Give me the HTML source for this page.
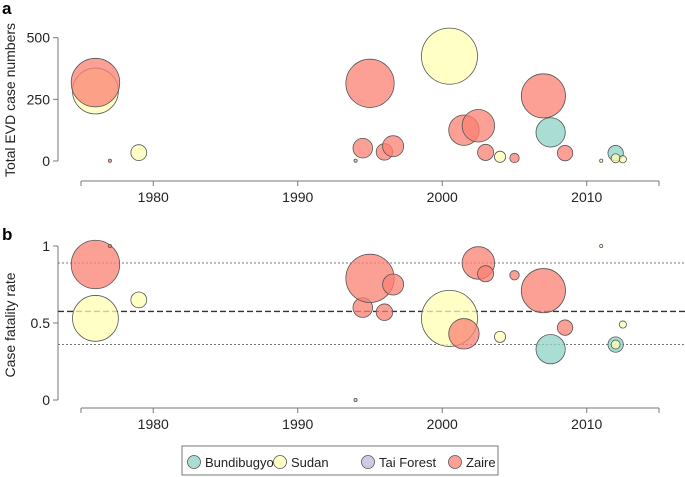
<!DOCTYPE html>
<html><head><meta charset="utf-8"><style>
body{margin:0;background:#fff;}
svg{display:block;font-family:"Liberation Sans",Arial,sans-serif;}
</style></head><body>
<svg id="chart" width="685" height="477" viewBox="0 0 685 477">
<g id="axes"></g><g id="marks"></g><g id="leg"></g>
</svg>
<script>
const years=[1976,1976,1977,1979,1994,1994.5,1995,1996,1996.6,2000.5,2001.5,2002.5,2003,2004,2005,2007,2007.5,2008.5,2011,2012,2012,2012.5];
const totals=[284,318,1,34,1,52,315,37,60,425,125,143,35,17,12,264,116,32,1,32,11,7];
const cfrs=[0.53,0.88,1.0,0.65,0,0.60,0.79,0.57,0.75,0.53,0.43,0.89,0.82,0.41,0.81,0.71,0.33,0.47,1.0,0.36,0.36,0.49];
const species=["Sudan","Zaire","Zaire","Sudan","Tai Forest","Zaire","Zaire","Zaire","Zaire","Sudan","Zaire","Zaire","Zaire","Sudan","Zaire","Zaire","Bundibugyo","Zaire","Sudan","Bundibugyo","Sudan","Sudan"];
const xTicks=[1980,1990,2000,2010];
const topTicks=[0,250,500];
const botTicks=[0,0.5,1];
const refLines=[0.89,0.575,0.36];
const legendNames=["Bundibugyo","Sudan","Tai Forest","Zaire"];
const colors={"Bundibugyo":"rgba(141,211,199,0.75)","Sudan":"rgba(255,255,179,0.75)","Tai Forest":"rgba(190,186,218,0.75)","Zaire":"rgba(251,128,114,0.75)"};
const NS="http://www.w3.org/2000/svg";
const X=v=>81+(v-1975)*14.45;
const YT=v=>161-v*0.2466;
const YB=v=>400-v*154;
const R=t=>Math.max(1.6,Math.sqrt(t)*1.36);
function mk(tag,at,parent,txt){const e=document.createElementNS(NS,tag);for(const k in at)e.setAttribute(k,at[k]);if(txt!==undefined)e.textContent=txt;parent.appendChild(e);return e;}
const ax=document.getElementById('axes'),mg=document.getElementById('marks'),lgRoot=document.getElementById('leg');
let e=mk('text',{x:2,y:14,'font-size':17,'font-weight':'bold'},ax,'a');


e=mk('text',{x:2,y:240,'font-size':17,'font-weight':'bold'},ax,'b');


e=mk('text',{x:0,y:0,'font-size':14,'text-anchor':'middle','fill':'#222',transform:'translate(15,100) rotate(-90)'},ax,'Total EVD case numbers');


e=mk('text',{x:0,y:0,'font-size':14,'text-anchor':'middle','fill':'#222',transform:'translate(15,325) rotate(-90)'},ax,'Case fatality rate');


mk('line',{x1:58,x2:58,y1:YT(500),y2:YT(0),stroke:'#777'},ax);
topTicks.forEach(t=>{mk('line',{x1:53,x2:58,y1:YT(t),y2:YT(t),stroke:'#777'},ax);
 e=mk('text',{x:50,y:YT(t)+5,'font-size':14,'text-anchor':'end','fill':'#222'},ax,t);
 
 });
mk('line',{x1:58,x2:58,y1:YB(1),y2:YB(0),stroke:'#777'},ax);
botTicks.forEach(t=>{mk('line',{x1:53,x2:58,y1:YB(t),y2:YB(t),stroke:'#777'},ax);
 e=mk('text',{x:50,y:YB(t)+5,'font-size':14,'text-anchor':'end','fill':'#222'},ax,t);
 
 });
[[181,'top'],[408,'bottom']].forEach(([y,n])=>{
 mk('line',{x1:X(1975),x2:X(2015),y1:y,y2:y,stroke:'#777'},ax);
 mk('line',{x1:X(1975),x2:X(1975),y1:y,y2:y+5,stroke:'#777'},ax);
 mk('line',{x1:X(2015),x2:X(2015),y1:y,y2:y+5,stroke:'#777'},ax);
 xTicks.forEach(t=>{mk('line',{x1:X(t),x2:X(t),y1:y,y2:y+5,stroke:'#777'},ax);
  e=mk('text',{x:X(t),y:y+21,'font-size':14,'text-anchor':'middle','fill':'#222'},ax,t);
  
  });
});
refLines.forEach((v,i)=>{e=mk('line',{x1:58,x2:685,y1:YB(v),y2:YB(v),stroke:i==1?'#333':'#777','stroke-width':i==1?1.3:1,'stroke-dasharray':i==1?'6,3':'2,2'},ax);
 
 });
years.forEach((y,i)=>{
 const c=colors[species[i]],r=R(totals[i]);
 e=mk('circle',{cx:X(y),cy:YT(totals[i]),r:r,fill:c,stroke:'#555','stroke-width':0.8},mg);
 
 
 e=mk('circle',{cx:X(y),cy:YB(cfrs[i]),r:r,fill:c,stroke:'#555','stroke-width':0.8},mg);
 
 
});
const lg=mk('g',{},lgRoot);


mk('rect',{x:182,y:446,width:316,height:29,fill:'#fff',stroke:'#777'},lg);
const lx=[194,280,368,455];
legendNames.forEach((n,i)=>{
 const g=mk('g',{},lg);
 
 
 mk('circle',{cx:lx[i],cy:462,r:6.5,fill:colors[n],stroke:'#555','stroke-width':0.8},g);
 mk('text',{x:lx[i]+11,y:467,'font-size':13,'fill':'#222'},g,n);
});
</script>
</body></html>
